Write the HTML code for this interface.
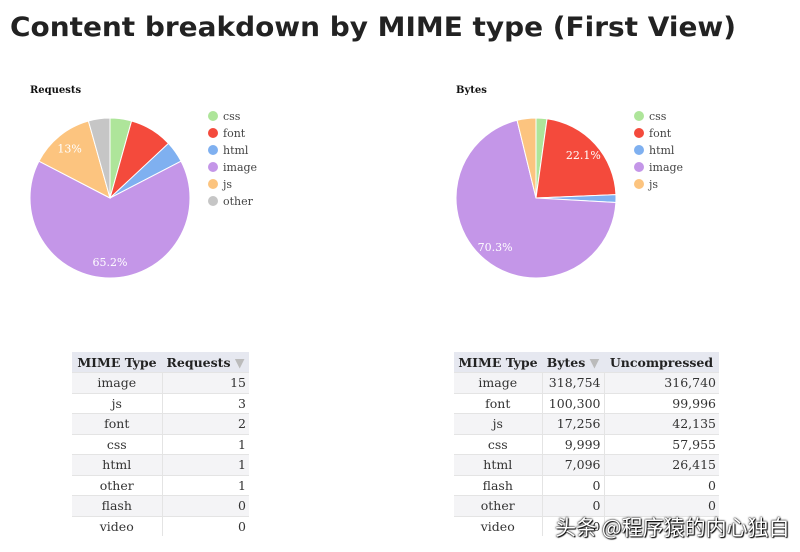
<!DOCTYPE html>
<html><head><meta charset="utf-8"><style>
body{margin:0;width:800px;height:552px;background:#fff;overflow:hidden;position:relative;font-family:"DejaVu Serif","Liberation Serif",serif;}
svg{position:absolute;left:0;top:0}
table{position:absolute;border-collapse:collapse;font-size:12.5px;color:#333;table-layout:fixed}
th{background:#e6e8f0;font-weight:bold;color:#222;height:20px;padding:0 3px;white-space:nowrap;overflow:hidden}
td{height:19.5px;padding:0 3px;border-top:1px solid #e4e4e4;white-space:nowrap}
tr:nth-child(even) td{background:#f4f4f6}
td.c{text-align:center}td.r{text-align:right;border-left:1px solid #e4e4e4}
.wm{position:absolute;left:555px;top:512px;font-family:"Noto Sans CJK SC",sans-serif;font-size:21px;color:#fff;text-shadow:0 0 2px #000,0 0 1px #000,1px 1px 1px #000;white-space:nowrap}
</style></head><body>
<svg width="800" height="552" id="s">
<text x="10" y="36" font-family="DejaVu Sans" font-weight="bold" font-size="27" fill="#222" textLength="726" lengthAdjust="spacingAndGlyphs">Content breakdown by MIME type (First View)</text>
<text x="30" y="93" font-size="10" font-weight="bold" fill="#111" font-family="DejaVu Serif">Requests</text>
<text x="456" y="93" font-size="10" font-weight="bold" fill="#111" font-family="DejaVu Serif">Bytes</text>
</svg>
<table style="left:72px;top:352px;width:177px">
<col style="width:90px"><col style="width:87px">
<tr><th>MIME Type</th><th>Requests <span style="color:#bbb">▼</span></th></tr>
<tr><td class="c">image</td><td class="r">15</td></tr>
<tr><td class="c">js</td><td class="r">3</td></tr>
<tr><td class="c">font</td><td class="r">2</td></tr>
<tr><td class="c">css</td><td class="r">1</td></tr>
<tr><td class="c">html</td><td class="r">1</td></tr>
<tr><td class="c">other</td><td class="r">1</td></tr>
<tr><td class="c">flash</td><td class="r">0</td></tr>
<tr><td class="c">video</td><td class="r">0</td></tr>
</table>
<table style="left:454px;top:352px;width:265px">
<col style="width:88px"><col style="width:62px"><col style="width:115px">
<tr><th>MIME Type</th><th>Bytes <span style="color:#bbb">▼</span></th><th>Uncompressed</th></tr>
<tr><td class="c">image</td><td class="r">318,754</td><td class="r">316,740</td></tr>
<tr><td class="c">font</td><td class="r">100,300</td><td class="r">99,996</td></tr>
<tr><td class="c">js</td><td class="r">17,256</td><td class="r">42,135</td></tr>
<tr><td class="c">css</td><td class="r">9,999</td><td class="r">57,955</td></tr>
<tr><td class="c">html</td><td class="r">7,096</td><td class="r">26,415</td></tr>
<tr><td class="c">flash</td><td class="r">0</td><td class="r">0</td></tr>
<tr><td class="c">other</td><td class="r">0</td><td class="r">0</td></tr>
<tr><td class="c">video</td><td class="r">0</td><td class="r">0</td></tr>
</table>
<div class="wm">头条 @程序猿的内心独白</div>
<script>
var s=document.getElementById('s'),NS='http://www.w3.org/2000/svg';
var col={css:'#aee59a',font:'#f44a3c',html:'#7fb0f0',image:'#c496e8',js:'#fcc47f',other:'#c6c6c6'};
function el(t,a,txt){var e=document.createElementNS(NS,t);for(var k in a)e.setAttribute(k,a[k]);if(txt)e.textContent=txt;s.appendChild(e);return e;}
function pie(cx,cy,r,data,lx){
 var tot=0;data.forEach(d=>tot+=d[1]);var a=0;
 data.forEach(d=>{var f=d[1]/tot,a2=a+f*2*Math.PI;
  var x1=cx+r*Math.sin(a),y1=cy-r*Math.cos(a),x2=cx+r*Math.sin(a2),y2=cy-r*Math.cos(a2);
  el('path',{d:'M'+cx+','+cy+'L'+x1+','+y1+'A'+r+','+r+' 0 '+(f>0.5?1:0)+' 1 '+x2+','+y2+'Z',fill:col[d[0]],stroke:'#fff','stroke-width':1});
  if(f>0.1){var m=(a+a2)/2,lr=r*0.8;el('text',{x:cx+lr*Math.sin(m),y:cy-lr*Math.cos(m)+4,'text-anchor':'middle','font-size':11,fill:'#fff','font-family':'DejaVu Serif'},(Math.round(f*1000)/10)+'%');}
  a=a2;});
 data.forEach((d,i)=>{var y=116+i*17;el('circle',{cx:lx,cy:y,r:5,fill:col[d[0]]});el('text',{x:lx+10,y:y+4,'font-size':11,fill:'#444','font-family':'DejaVu Serif'},d[0]);});
}
pie(110,198,80,[['css',1],['font',2],['html',1],['image',15],['js',3],['other',1]],213);
pie(536,198,80,[['css',9999],['font',100300],['html',7096],['image',318754],['js',17256]],639);
</script>
</body></html>
